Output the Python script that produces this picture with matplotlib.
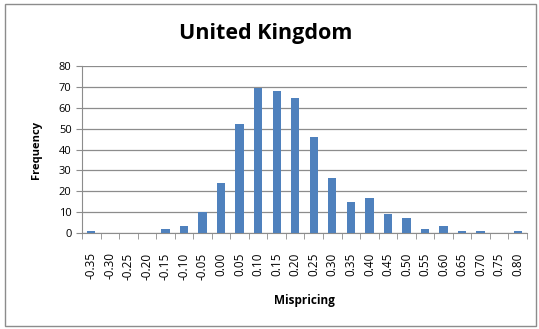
import matplotlib.pyplot as plt
import matplotlib.patches as patches
import numpy as np

plt.rcParams['font.family'] = ['Open Sans', 'DejaVu Sans']

# Data
bins = ['-0.35', '-0.30', '-0.25', '-0.20', '-0.15', '-0.10', '-0.05', '0.00',
        '0.05', '0.10', '0.15', '0.20', '0.25', '0.30', '0.35', '0.40',
        '0.45', '0.50', '0.55', '0.60', '0.65', '0.70', '0.75', '0.80']
frequency = [1, 0, 0, 0, 2, 3.5, 10, 24, 52, 69.5, 68, 64.5, 46, 26.5, 15, 17,
             9, 7, 2, 3.5, 1, 1, 0, 1]

fig = plt.figure(figsize=(5.39, 3.29), dpi=100)
ax = fig.add_axes([82 / 539, 1 - 233 / 329, (527 - 82) / 539, (233 - 66) / 329])

x = np.arange(len(bins))
ax.bar(x, frequency, width=0.45, color='#4F81BD', zorder=3)

ax.set_xlim(-0.5, len(bins) - 0.5)
ax.set_ylim(0, 80)
ax.set_yticks(range(0, 81, 10))
ax.yaxis.grid(True, color='#8c8c8c', linewidth=0.9, zorder=0)
ax.set_xticks(x)
ax.set_xticklabels(bins, rotation=90, fontsize=8.5)
ax.set_xticks(np.arange(-0.5, len(bins)), minor=True)
ax.tick_params(axis='x', which='major', length=0, pad=14)
ax.tick_params(axis='x', which='minor', length=4, color='#8c8c8c', direction='out')
ax.tick_params(axis='y', length=4, labelsize=8, color='#8c8c8c')

for side in ['top', 'right']:
    ax.spines[side].set_visible(False)
ax.spines['left'].set_color('#8c8c8c')
ax.spines['bottom'].set_color('#8c8c8c')

ax.set_xlabel('Mispricing', fontsize=8.5, fontweight='bold', labelpad=10)
ax.set_ylabel('Frequency', fontsize=8, fontweight='bold', labelpad=12)
fig.text(266 / 539, 1 - 33 / 329, 'United Kingdom', ha='center', va='center',
         fontsize=15.5, fontweight='bold')

# chart border
fig.patches.append(patches.Rectangle((5 / 539, 3 / 329), 531 / 539, 322 / 329,
                                     transform=fig.transFigure, fill=False,
                                     edgecolor='#8c8c8c', linewidth=1))

plt.savefig('out.png', dpi=100)
plt.close()
